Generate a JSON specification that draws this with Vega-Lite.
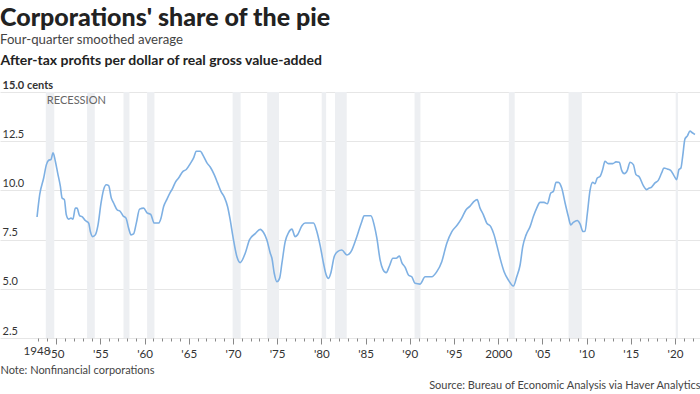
{
  "$schema": "https://vega.github.io/schema/vega-lite/v6.json",
  "width": 700,
  "height": 246,
  "autosize": "none",
  "padding": {"top": 92, "left": 0, "right": 0, "bottom": 56},
  "background": "#ffffff",
  "config": {
    "view": {"stroke": null},
    "font": "Lato",
    "axis": {"labelFont": "Lato", "titleFont": "Lato"}
  },
  "title": {
    "text": "Corporations' share of the pie",
    "subtitle": "Four-quarter smoothed average",
    "anchor": "start",
    "frame": "group",
    "font": "Lato",
    "fontSize": 25,
    "fontWeight": 900,
    "color": "#222222",
    "subtitleFont": "Lato",
    "subtitleFontSize": 13.2,
    "subtitleColor": "#444444",
    "subtitlePadding": 3,
    "offset": 7
  },
  "datasets": {
    "recessions": [
      {"start": 1948.83, "end": 1949.79},
      {"start": 1953.5, "end": 1954.37},
      {"start": 1957.62, "end": 1958.29},
      {"start": 1960.29, "end": 1961.12},
      {"start": 1969.96, "end": 1970.87},
      {"start": 1973.87, "end": 1975.21},
      {"start": 1980.04, "end": 1980.54},
      {"start": 1981.54, "end": 1982.87},
      {"start": 1990.54, "end": 1991.21},
      {"start": 2001.21, "end": 2001.87},
      {"start": 2007.96, "end": 2009.46},
      {"start": 2020.08, "end": 2020.33}
    ],
    "profits": [
      {"year": 1947.84, "value": 8.65}, {"year": 1948.14, "value": 9.78}, {"year": 1948.59, "value": 10.63},
      {"year": 1948.9, "value": 11.31}, {"year": 1949.15, "value": 11.53}, {"year": 1949.42, "value": 11.57},
      {"year": 1949.65, "value": 11.91}, {"year": 1949.91, "value": 11.48}, {"year": 1950.17, "value": 10.89},
      {"year": 1950.48, "value": 10.2}, {"year": 1950.67, "value": 9.61}, {"year": 1950.93, "value": 9.53},
      {"year": 1951.15, "value": 8.76}, {"year": 1951.41, "value": 8.54}, {"year": 1951.68, "value": 8.59},
      {"year": 1951.9, "value": 8.54}, {"year": 1952.17, "value": 9.1}, {"year": 1952.36, "value": 9.1},
      {"year": 1952.66, "value": 8.71}, {"year": 1952.93, "value": 8.67}, {"year": 1953.3, "value": 8.47},
      {"year": 1953.68, "value": 8.34}, {"year": 1953.87, "value": 7.91}, {"year": 1954.13, "value": 7.65},
      {"year": 1954.43, "value": 7.74}, {"year": 1954.74, "value": 8.25}, {"year": 1955.08, "value": 9.36},
      {"year": 1955.37, "value": 10.04}, {"year": 1955.68, "value": 10.29}, {"year": 1955.94, "value": 10.24},
      {"year": 1956.24, "value": 9.61}, {"year": 1956.5, "value": 9.36}, {"year": 1956.89, "value": 9.02},
      {"year": 1957.26, "value": 8.93}, {"year": 1957.56, "value": 8.71}, {"year": 1957.9, "value": 8.59},
      {"year": 1958.2, "value": 8.08}, {"year": 1958.47, "value": 7.74}, {"year": 1958.76, "value": 7.79},
      {"year": 1959.07, "value": 8.34}, {"year": 1959.44, "value": 9.05}, {"year": 1959.9, "value": 9.1},
      {"year": 1960.28, "value": 8.86}, {"year": 1960.7, "value": 8.78}, {"year": 1961.1, "value": 8.34},
      {"year": 1961.59, "value": 8.34}, {"year": 1961.86, "value": 8.59}, {"year": 1962.16, "value": 9.18},
      {"year": 1962.54, "value": 9.56}, {"year": 1962.91, "value": 9.9}, {"year": 1963.1, "value": 10.04},
      {"year": 1963.48, "value": 10.41}, {"year": 1963.85, "value": 10.63}, {"year": 1964.35, "value": 10.97},
      {"year": 1964.72, "value": 11.06}, {"year": 1965.17, "value": 11.36}, {"year": 1965.55, "value": 11.65},
      {"year": 1965.85, "value": 11.99}, {"year": 1966.3, "value": 11.99}, {"year": 1966.68, "value": 11.73},
      {"year": 1967.06, "value": 11.4}, {"year": 1967.43, "value": 11.19}, {"year": 1967.88, "value": 10.8},
      {"year": 1968.26, "value": 10.38}, {"year": 1968.64, "value": 9.95}, {"year": 1969.02, "value": 9.66},
      {"year": 1969.39, "value": 9.18}, {"year": 1969.69, "value": 8.5}, {"year": 1970.0, "value": 7.65},
      {"year": 1970.45, "value": 6.63}, {"year": 1970.82, "value": 6.33}, {"year": 1971.39, "value": 6.81},
      {"year": 1971.88, "value": 7.5}, {"year": 1972.52, "value": 7.8}, {"year": 1973.09, "value": 8.02},
      {"year": 1973.46, "value": 7.86}, {"year": 1973.84, "value": 7.48}, {"year": 1974.22, "value": 6.81},
      {"year": 1974.41, "value": 6.55}, {"year": 1974.67, "value": 5.79}, {"year": 1974.97, "value": 5.36},
      {"year": 1975.27, "value": 5.53}, {"year": 1975.54, "value": 6.3}, {"year": 1975.91, "value": 7.4},
      {"year": 1976.29, "value": 7.86}, {"year": 1976.67, "value": 8.03}, {"year": 1977.04, "value": 7.65},
      {"year": 1977.3, "value": 7.74}, {"year": 1977.8, "value": 8.2}, {"year": 1978.17, "value": 8.34},
      {"year": 1979.11, "value": 8.34}, {"year": 1979.49, "value": 7.91}, {"year": 1979.87, "value": 7.18},
      {"year": 1980.24, "value": 6.3}, {"year": 1980.55, "value": 5.7}, {"year": 1980.81, "value": 5.53},
      {"year": 1981.08, "value": 5.82}, {"year": 1981.45, "value": 6.63}, {"year": 1981.83, "value": 6.89},
      {"year": 1982.32, "value": 6.97}, {"year": 1982.89, "value": 6.72}, {"year": 1983.45, "value": 6.97},
      {"year": 1983.82, "value": 7.4}, {"year": 1984.2, "value": 7.91}, {"year": 1984.58, "value": 8.42},
      {"year": 1984.84, "value": 8.71}, {"year": 1985.6, "value": 8.71}, {"year": 1985.97, "value": 8.25},
      {"year": 1986.28, "value": 7.57}, {"year": 1986.65, "value": 6.46}, {"year": 1986.96, "value": 5.99},
      {"year": 1987.33, "value": 5.82}, {"year": 1987.7, "value": 6.16}, {"year": 1988.09, "value": 6.55},
      {"year": 1988.46, "value": 6.55}, {"year": 1988.83, "value": 6.67}, {"year": 1989.1, "value": 6.33},
      {"year": 1989.48, "value": 6.09}, {"year": 1989.85, "value": 5.7}, {"year": 1990.23, "value": 5.61},
      {"year": 1990.6, "value": 5.28}, {"year": 1991.17, "value": 5.24}, {"year": 1991.74, "value": 5.61},
      {"year": 1992.49, "value": 5.61}, {"year": 1993.06, "value": 5.87}, {"year": 1993.62, "value": 6.38},
      {"year": 1994.19, "value": 7.32}, {"year": 1994.76, "value": 7.91}, {"year": 1995.39, "value": 8.25},
      {"year": 1995.88, "value": 8.59}, {"year": 1996.37, "value": 9.02}, {"year": 1996.82, "value": 9.2},
      {"year": 1997.27, "value": 9.44}, {"year": 1997.62, "value": 9.53}, {"year": 1997.95, "value": 9.1},
      {"year": 1998.33, "value": 8.76}, {"year": 1998.71, "value": 8.34}, {"year": 1999.16, "value": 8.16},
      {"year": 1999.54, "value": 7.74}, {"year": 1999.84, "value": 7.23}, {"year": 2000.22, "value": 6.55},
      {"year": 2000.67, "value": 5.87}, {"year": 2001.16, "value": 5.44}, {"year": 2001.72, "value": 5.14},
      {"year": 2002.1, "value": 5.61}, {"year": 2002.48, "value": 6.21}, {"year": 2002.78, "value": 7.14},
      {"year": 2003.16, "value": 7.74}, {"year": 2003.61, "value": 8.16}, {"year": 2003.98, "value": 8.67},
      {"year": 2004.36, "value": 9.1}, {"year": 2004.74, "value": 9.39}, {"year": 2005.19, "value": 9.39},
      {"year": 2005.57, "value": 9.32}, {"year": 2005.95, "value": 9.87}, {"year": 2006.25, "value": 9.95},
      {"year": 2006.55, "value": 10.41}, {"year": 2006.81, "value": 10.41}, {"year": 2007.19, "value": 10.12},
      {"year": 2007.57, "value": 9.36}, {"year": 2007.94, "value": 8.67}, {"year": 2008.21, "value": 8.25},
      {"year": 2008.5, "value": 8.37}, {"year": 2008.95, "value": 8.47}, {"year": 2009.26, "value": 8.3},
      {"year": 2009.6, "value": 7.91}, {"year": 2009.82, "value": 7.93}, {"year": 2010.08, "value": 8.8},
      {"year": 2010.39, "value": 10.0}, {"year": 2010.69, "value": 10.41}, {"year": 2010.95, "value": 10.34},
      {"year": 2011.21, "value": 10.63}, {"year": 2011.52, "value": 10.71}, {"year": 2011.82, "value": 11.06},
      {"year": 2012.08, "value": 11.48}, {"year": 2012.46, "value": 11.36}, {"year": 2012.96, "value": 11.36},
      {"year": 2013.33, "value": 11.45}, {"year": 2013.7, "value": 11.43}, {"year": 2013.97, "value": 11.02},
      {"year": 2014.27, "value": 10.85}, {"year": 2014.61, "value": 11.02}, {"year": 2014.92, "value": 11.43},
      {"year": 2015.29, "value": 11.31}, {"year": 2015.59, "value": 10.8}, {"year": 2015.97, "value": 10.68},
      {"year": 2016.42, "value": 10.24}, {"year": 2016.8, "value": 10.04}, {"year": 2017.1, "value": 10.12},
      {"year": 2017.36, "value": 10.17}, {"year": 2017.74, "value": 10.38}, {"year": 2018.11, "value": 10.51},
      {"year": 2018.49, "value": 10.89}, {"year": 2018.75, "value": 11.14}, {"year": 2019.13, "value": 11.09},
      {"year": 2019.51, "value": 11.02}, {"year": 2019.88, "value": 10.75}, {"year": 2020.19, "value": 10.55},
      {"year": 2020.45, "value": 11.06}, {"year": 2020.67, "value": 11.14}, {"year": 2020.87, "value": 11.73},
      {"year": 2021.13, "value": 12.62}, {"year": 2021.39, "value": 12.76}, {"year": 2021.7, "value": 13.01},
      {"year": 2021.96, "value": 12.93}, {"year": 2022.26, "value": 12.84}
    ],
    "notes": [
      {"year": 1948.95, "value": 14.55, "label": "RECESSION"}
    ]
  },
  "layer": [
    {
      "data": {"name": "recessions"},
      "mark": {"type": "rect", "color": "#edeff2"},
      "encoding": {
        "x": {"field": "start", "type": "quantitative"},
        "x2": {"field": "end"}
      }
    },
    {
      "data": {"name": "profits"},
      "mark": {"type": "line", "color": "#7eb0e3", "strokeWidth": 1.6, "interpolate": "monotone"},
      "encoding": {
        "x": {
          "field": "year", "type": "quantitative",
          "scale": {"domain": [1943.65, 2022.83], "nice": false, "zero": false},
          "axis": {
            "values": [1948,1949,1950,1951,1952,1953,1954,1955,1956,1957,1958,1959,1960,1961,1962,1963,1964,1965,1966,1967,1968,1969,1970,1971,1972,1973,1974,1975,1976,1977,1978,1979,1980,1981,1982,1983,1984,1985,1986,1987,1988,1989,1990,1991,1992,1993,1994,1995,1996,1997,1998,1999,2000,2001,2002,2003,2004,2005,2006,2007,2008,2009,2010,2011,2012,2013,2014,2015,2016,2017,2018,2019,2020,2021,2022],
            "tickCount": 200,
            "labelExpr": "datum.value == 1948 ? '1948' : datum.value == 2000 ? '2000' : datum.value % 5 == 0 ? \"'\" + slice(toString(datum.value), 2) : ''",
            "labelOffset": {"condition": {"test": "datum.value == 1948", "value": -2}, "value": 0},
            "grid": false,
            "domain": false,
            "tickColor": "#888888",
            "tickSize": {"condition": {"test": "datum.value % 5 == 0", "value": 6}, "value": 3},
            "labelPadding": 4,
            "labelFontSize": 11.6,
            "labelColor": "#333333",
            "labelOverlap": false,
            "labelFlush": false,
            "title": "Note: Nonfinancial corporations",
            "titleFontSize": 11,
            "titleFontWeight": "normal",
            "titleColor": "#444444",
            "titleAlign": "left",
            "titleAnchor": "start",
            "titleBaseline": "alphabetic",
            "titleX": 0,
            "titleY": 35
          }
        },
        "y": {
          "field": "value", "type": "quantitative",
          "scale": {"domain": [2.5, 15], "nice": false, "zero": false},
          "axis": {
            "values": [2.5, 5, 7.5, 10, 12.5, 15],
            "tickCount": 20,
            "labelExpr": "datum.value == 15 ? '15.0 cents' : format(datum.value, '.1f')",
            "labelAlign": "left",
            "labelBaseline": "bottom",
            "labelOffset": -2,
            "labelPadding": -2,
            "labelFontSize": 11,
            "labelColor": "#333333",
            "labelFontWeight": {"condition": {"test": "datum.value == 15", "value": "bold"}, "value": "normal"},
            "ticks": false,
            "tickSize": 0,
            "domain": false,
            "grid": true,
            "gridColor": "#e6e6e6",
            "gridWidth": 1,
            "title": "After-tax profits per dollar of real gross value-added",
            "titleAngle": 0,
            "titleAlign": "left",
            "titleBaseline": "alphabetic",
            "titleX": 0,
            "titleY": -28,
            "titleFontSize": 14,
            "titleFontWeight": "bold",
            "titleColor": "#222222"
          }
        }
      }
    },
    {
      "data": {"name": "notes"},
      "mark": {"type": "text", "align": "left", "baseline": "middle", "fontSize": 11, "color": "#666666", "font": "Lato"},
      "encoding": {
        "x": {"field": "year", "type": "quantitative"},
        "y": {
          "field": "value", "type": "quantitative",
          "axis": {
            "orient": "right",
            "labels": false,
            "ticks": false,
            "domain": false,
            "grid": false,
            "title": "Source: Bureau of Economic Analysis via Haver Analytics",
            "titleAngle": 0,
            "titleAlign": "right",
            "titleBaseline": "alphabetic",
            "titleX": 0,
            "titleY": 296,
            "titleFontSize": 11,
            "titleFontWeight": "normal",
            "titleColor": "#444444"
          }
        },
        "text": {"field": "label"}
      }
    }
  ],
  "resolve": {"axis": {"y": "independent"}}
}
